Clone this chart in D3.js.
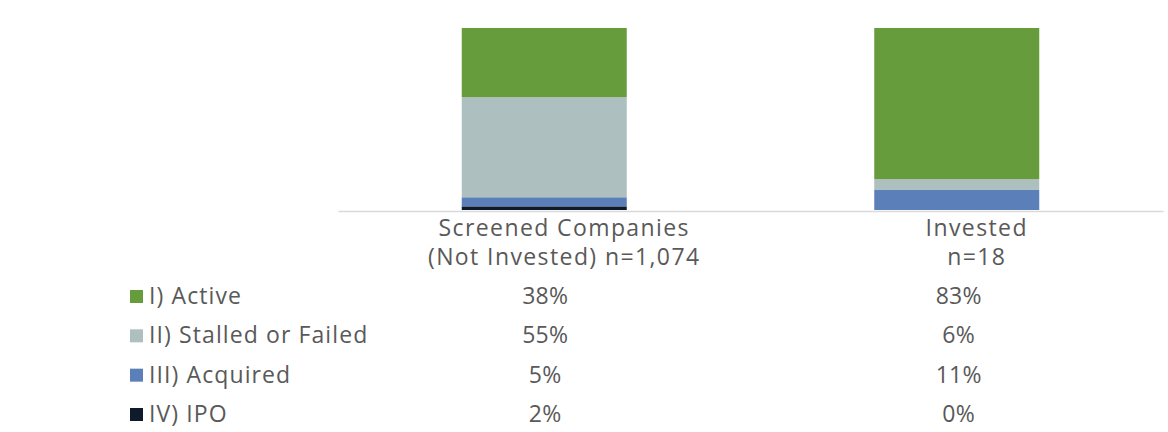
<!DOCTYPE html>
<html>
<head>
<meta charset="utf-8">
<script src="https://cdn.jsdelivr.net/npm/d3@7"></script>
<style>
  html, body { margin: 0; padding: 0; background: #fff; }
  svg { display: block; }
  text { font-family: "Open Sans", sans-serif; fill: #595959; }
</style>
</head>
<body>
<svg id="chart" width="1168" height="432"></svg>
<script>
const categories = ["Screened Companies\n(Not Invested) n=1,074", "Invested\nn=18"];
const seriesNames = ["I) Active", "II) Stalled or Failed", "III) Acquired", "IV) IPO"];
const active = [38, 83];
const stalled = [55, 6];
const acquired = [5, 11];
const ipo = [2, 0];
const colors = ["#669c3c", "#adbfbf", "#5b7fb8", "#0f1a2b"];

const seriesValues = [active, stalled, acquired, ipo];
const rows = categories.map((c, i) => {
  const r = { cat: c };
  seriesNames.forEach((s, j) => r[s] = seriesValues[j][i]);
  return r;
});

const svg = d3.select("#chart");
const plot = { left: 338, right: 1163, top: 28, bottom: 210 };

const x = d3.scaleBand().domain(categories).range([plot.left, plot.right])
  .paddingInner(0.6).paddingOuter(0.3);
const y = d3.scaleLinear().domain([0, 100]).range([plot.bottom, plot.top]);
const color = d3.scaleOrdinal().domain(seriesNames).range(colors);

const stackOrder = seriesNames.slice().reverse();
const stack = d3.stack().keys(stackOrder)(rows);

svg.append("g").selectAll("g").data(stack).join("g")
  .attr("fill", d => color(d.key))
  .selectAll("rect").data(d => d).join("rect")
  .attr("x", d => x(d.data.cat))
  .attr("width", x.bandwidth())
  .attr("y", d => y(d[1]))
  .attr("height", d => y(d[0]) - y(d[1]));

const xAxis = d3.axisBottom(x).tickSize(0).tickFormat("");
const ax = svg.append("g").attr("transform", `translate(0,${plot.bottom + 1})`).call(xAxis);
ax.select(".domain").attr("stroke", "#d9d9d9").attr("stroke-width", 1.5);

const fs = 23;
const labelShift = 20;
categories.forEach(c => {
  const lines = c.split("\n");
  const cx = x(c) + x.bandwidth() / 2 + labelShift;
  const t = svg.append("text").attr("text-anchor", "middle")
    .attr("font-size", fs).attr("letter-spacing", 1.4);
  lines.forEach((l, i) => t.append("tspan")
    .attr("x", cx).attr("y", 236 + i * 29).text(l));
});

const rowY = d3.scalePoint().domain(seriesNames).range([304, 422]);
seriesNames.forEach((s, j) => {
  const yy = rowY(s);
  svg.append("rect").attr("x", 130).attr("y", yy - 14).attr("width", 13).attr("height", 13)
    .attr("fill", color(s));
  svg.append("text").attr("x", 149).attr("y", yy).attr("font-size", fs)
    .attr("letter-spacing", 1.1).text(s);
  categories.forEach((c, i) => {
    svg.append("text").attr("text-anchor", "middle")
      .attr("x", x(c) + x.bandwidth() / 2 + (i === 1 ? 2 : 1))
      .attr("y", yy).attr("font-size", fs).attr("letter-spacing", 0.3)
      .text(seriesValues[j][i] + "%");
  });
});
</script>
</body>
</html>
